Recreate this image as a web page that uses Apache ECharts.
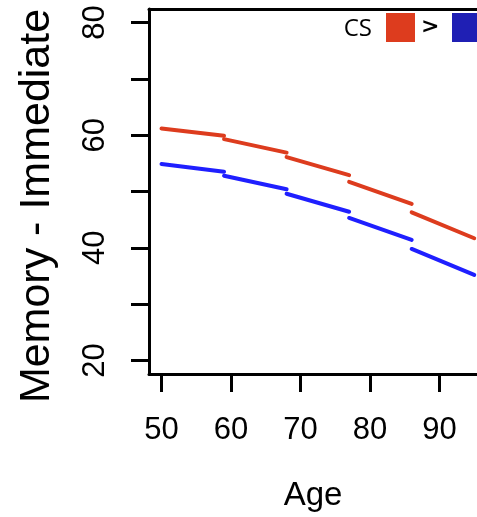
<!DOCTYPE html>
<html lang="en">
<head>
    <meta charset="UTF-8">
    <title>Memory - Immediate by Age</title>
    <script src="https://cdn.jsdelivr.net/npm/echarts@6/dist/echarts.min.js"></script>
    <style>
        html, body {
            margin: 0;
            border: 0;
            background: #fff;
        }

        #chart {
            width: 477px;
            height: 517px;
        }
    </style>
</head>
<body>
<div id="chart"></div>
<script type="text/javascript">
    // piecewise fitted curves, one [age, score] pair list per age band
    const redSegments = [
        [[50, 61.2], [59, 59.9]],
        [[59, 59.3], [68, 56.9]],
        [[68, 56.1], [77, 52.9]],
        [[77, 51.7], [86, 47.8]],
        [[86, 46.3], [95, 41.7]]
    ];
    const blueSegments = [
        [[50, 54.9], [59, 53.5]],
        [[59, 52.8], [68, 50.4]],
        [[68, 49.6], [77, 46.4]],
        [[77, 45.3], [86, 41.4]],
        [[86, 39.8], [95, 35.2]]
    ];
    const xTicks = [50, 60, 70, 80, 90];
    const yTicks = [20, 30, 40, 50, 60, 70, 80];
    const yLabels = [20, 40, 60, 80];

    const RED = '#dd3c1e';
    const BLUE = '#1f1fff';
    const FONT = "'Liberation Sans', Arial, sans-serif";

    const makeSeries = (segs, color) => segs.map(seg => ({
        type: 'line',
        data: seg,
        showSymbol: false,
        silent: true,
        lineStyle: {color: color, width: 4, cap: 'round'}
    }));

    window.onload = () => {
        const chart = echarts.init(document.querySelector('#chart'), null, {renderer: 'canvas'});
        const option = {
            animation: false,
            backgroundColor: '#fff',
            grid: {left: 149, top: 9, right: 0, bottom: 143},
            xAxis: [{
                type: 'value',
                min: 48.2,
                max: 95.4,
                name: 'Age',
                nameLocation: 'middle',
                nameGap: 105,
                nameTextStyle: {fontFamily: FONT, fontSize: 33, color: '#000'},
                axisLine: {show: true, lineStyle: {color: '#000', width: 3}},
                axisTick: {show: true, customValues: xTicks, length: 18, lineStyle: {color: '#000', width: 3}},
                axisLabel: {customValues: xTicks, fontFamily: FONT, fontSize: 31, color: '#000', margin: 41},
                splitLine: {show: false}
            }, {
                // top edge of the plot box
                type: 'value',
                position: 'top',
                min: 48.2,
                max: 95.4,
                axisLine: {show: true, lineStyle: {color: '#000', width: 3}},
                axisTick: {show: false},
                axisLabel: {show: false},
                splitLine: {show: false}
            }],
            yAxis: {
                type: 'value',
                min: 17.6,
                max: 82.4,
                name: 'Memory - Immediate',
                nameLocation: 'middle',
                nameRotate: 90,
                nameGap: 90,
                nameTextStyle: {fontFamily: FONT, fontSize: 43, color: '#000', padding: [0, 29, 0, 0]},
                axisLine: {show: true, lineStyle: {color: '#000', width: 3}},
                axisTick: {show: true, customValues: yTicks, length: 18, lineStyle: {color: '#000', width: 3}},
                axisLabel: {customValues: yLabels, rotate: 90, fontFamily: FONT, fontSize: 31, color: '#000', margin: 38},
                splitLine: {show: false}
            },
            graphic: [
                {type: 'text', right: 105, top: 17, style: {text: 'CS', font: "24px 'Open Sans', sans-serif", fill: '#000'}},
                {type: 'rect', left: 386, top: 13, shape: {width: 29, height: 29}, style: {fill: RED}},
                {type: 'text', left: 421, top: 16, style: {text: '>', font: "bold 22px 'DejaVu Sans', sans-serif", fill: '#000'}},
                {type: 'rect', left: 452, top: 13, shape: {width: 30, height: 29}, style: {fill: '#1f1fb4'}}
            ],
            series: makeSeries(redSegments, RED).concat(makeSeries(blueSegments, BLUE))
        };
        chart.setOption(option);
    };
</script>
</body>
</html>
